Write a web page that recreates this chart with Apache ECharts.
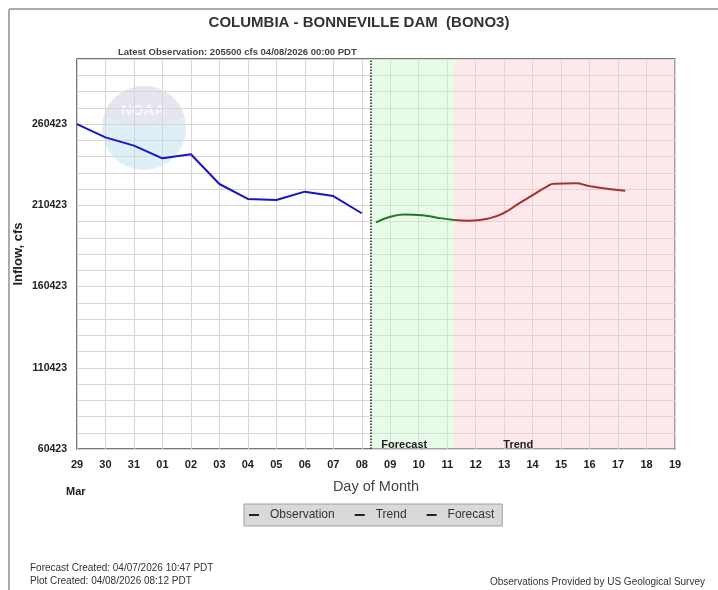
<!DOCTYPE html>
<html><head><meta charset="utf-8">
<script src="https://cdn.jsdelivr.net/npm/echarts@6/dist/echarts.min.js"></script>
<style>html,body{margin:0;padding:0;background:#fff}#c{width:718px;height:590px}</style>
</head><body><div id="c"></div>
<script>
// ---- data ----
const tickLabels = ['29','30','31','01','02','03','04','05','06','07','08','09','10','11','12','13','14','15','16','17','18','19'];
const yMin = 60423;
const yMax = 300423;
const yLabelStep = 50000;
const obsDays = [0,1,2,3,4,5,6,7,8,9,10];
const obsValues = [260400,252200,247100,239300,241800,223500,214300,213700,218800,216100,205500];
const fcstDays = [10.5,11,11.5,12.25,12.75,13.25];
const fcstValues = [199900,203300,204800,204000,202500,201300];
const trendDays = [13.25,13.75,14.5,15,15.5,16,16.5,16.75,17.5,18,18.75,19.25];
const trendValues = [201300,200900,202500,205800,211300,216700,221900,223700,223900,222200,220200,219300];
const nowDay = 10.3;
const fcstStart = 10.3, fcstEnd = 13.25, trendEnd = 21;

const F = '"Liberation Sans",Arial,sans-serif';
const pairs = (d, v) => d.map((x, i) => [x, v[i]]);

const chart = echarts.init(document.getElementById('c'), null, {renderer: 'canvas'});
chart.setOption({
  animation: false,
  backgroundColor: '#fff',
  title: [
    {text: 'COLUMBIA - BONNEVILLE DAM  (BONO3)', left: 'center', top: 10,
     textStyle: {fontFamily: F, fontSize: 15, fontWeight: 'bold', color: '#333'}},
    {text: 'Latest Observation: 205500 cfs 04/08/2026 00:00 PDT', left: 113, top: 42,
     textStyle: {fontFamily: F, fontSize: 9.5, fontWeight: 'bold', color: '#444'}}
  ],
  grid: {left: 77, right: 43, top: 59, bottom: 141, containLabel: false, outerBoundsMode: 'none',
    show: true, borderColor: '#4a4a4a', borderWidth: 1.5, backgroundColor: 'transparent'},
  xAxis: {
    type: 'value', min: 0, max: 21, interval: 1,
    name: 'Day of Month', nameLocation: 'middle', nameGap: 30, nameMoveOverlap: false,
    nameTextStyle: {fontFamily: F, fontSize: 14.5, color: '#444'},
    axisLine: {show: false}, axisTick: {show: false},
    axisLabel: {fontFamily: F, fontSize: 11, fontWeight: 'bold', color: '#222', margin: 10,
      formatter: v => tickLabels[Math.round(v)] || ''},
    splitLine: {show: true, lineStyle: {color: '#d6d6d6', width: 1}}
  },
  yAxis: {
    type: 'value', min: yMin, max: yMax, interval: 10000,
    name: 'Inflow, cfs', nameLocation: 'middle', nameGap: 52, nameRotate: 90, nameMoveOverlap: false,
    nameTextStyle: {fontFamily: F, fontSize: 13, fontWeight: 'bold', color: '#222'},
    axisLine: {show: false}, axisTick: {show: false},
    axisLabel: {fontFamily: F, fontSize: 10.5, fontWeight: 'bold', color: '#222', margin: 10,
      formatter: v => ((Math.round(v - yMin) % yLabelStep) === 0 && v < yMax) ? String(Math.round(v)) : ''},
    splitLine: {show: true, lineStyle: {color: '#d6d6d6', width: 1}}
  },
  legend: {
    left: 244, top: 504, padding: [5, 8, 5, 5], itemGap: 20, itemWidth: 10, itemHeight: 2, icon: 'rect',
    backgroundColor: '#d9d9d9', borderColor: '#a0a0a0', borderWidth: 1,
    textStyle: {fontFamily: F, fontSize: 12, color: '#333', padding: [0, 0, 0, 6]},
    data: [
      {name: 'Observation', itemStyle: {color: '#222'}},
      {name: 'Trend', itemStyle: {color: '#222'}},
      {name: 'Forecast', itemStyle: {color: '#222'}}
    ]
  },
  graphic: [
    {type: 'line', shape: {x1: 9, y1: 9, x2: 718, y2: 9}, style: {stroke: '#aaa', lineWidth: 2}, z: -20},
    {type: 'line', shape: {x1: 9, y1: 9, x2: 9, y2: 590}, style: {stroke: '#aaa', lineWidth: 2}, z: -20},
    {type: 'circle', shape: {cx: 144, cy: 128, r: 42}, style: {fill: '#dfeff7'}, z: -10},
    {type: 'sector', shape: {cx: 144, cy: 128, r: 42, r0: 0, startAngle: Math.PI * 1.08, endAngle: Math.PI * 1.92}, style: {fill: '#e5e6ef'}, z: -9},
    {type: 'text', x: 143, y: 111, style: {text: 'NOAA', fill: '#f6f8fb', font: 'bold 15px ' + F, textAlign: 'center', textVerticalAlign: 'middle'}, z: -8},
    {type: 'text', left: 30, top: 563, style: {text: 'Forecast Created: 04/07/2026 10:47 PDT', fill: '#333', font: '10px ' + F}},
    {type: 'text', left: 30, top: 576, style: {text: 'Plot Created: 04/08/2026 08:12 PDT', fill: '#333', font: '10px ' + F}},
    {type: 'text', right: 13, top: 577, style: {text: 'Observations Provided by US Geological Survey', fill: '#333', font: '10px ' + F}},
    {type: 'text', left: 66, top: 486, style: {text: 'Mar', fill: '#222', font: 'bold 11px ' + F}}
  ],
  series: [
    {
      name: 'Observation', type: 'line', data: pairs(obsDays, obsValues), symbol: 'none',
      lineStyle: {color: '#1616c8', width: 2}, itemStyle: {color: '#1616c8'}, z: 5,
      markLine: {silent: true, symbol: 'none', label: {show: false},
        lineStyle: {color: '#222', type: 'dotted', width: 1.5},
        data: [{xAxis: nowDay}]}
    },
    {
      name: 'Forecast', type: 'line', data: pairs(fcstDays, fcstValues), symbol: 'none', smooth: 0.5,
      lineStyle: {color: '#1f7a1f', width: 2}, itemStyle: {color: '#1f7a1f'}, z: 5,
      markArea: {silent: true,
        label: {show: true, position: 'insideBottomLeft', offset: [6, 6], fontFamily: F, fontSize: 11, fontWeight: 'bold', color: '#222'},
        data: [
          [{xAxis: fcstStart, name: 'Forecast', itemStyle: {color: 'rgba(200,245,200,0.42)'}}, {xAxis: fcstEnd}],
          [{xAxis: fcstEnd, name: 'Trend', itemStyle: {color: 'rgba(250,200,205,0.42)'}, label: {offset: [44, 6]}}, {xAxis: trendEnd}]
        ]}
    },
    {
      name: 'Trend', type: 'line', data: pairs(trendDays, trendValues), symbol: 'none', smooth: 0.5,
      lineStyle: {color: '#a83030', width: 2}, itemStyle: {color: '#a83030'}, z: 5
    }
  ]
});
</script></body></html>
